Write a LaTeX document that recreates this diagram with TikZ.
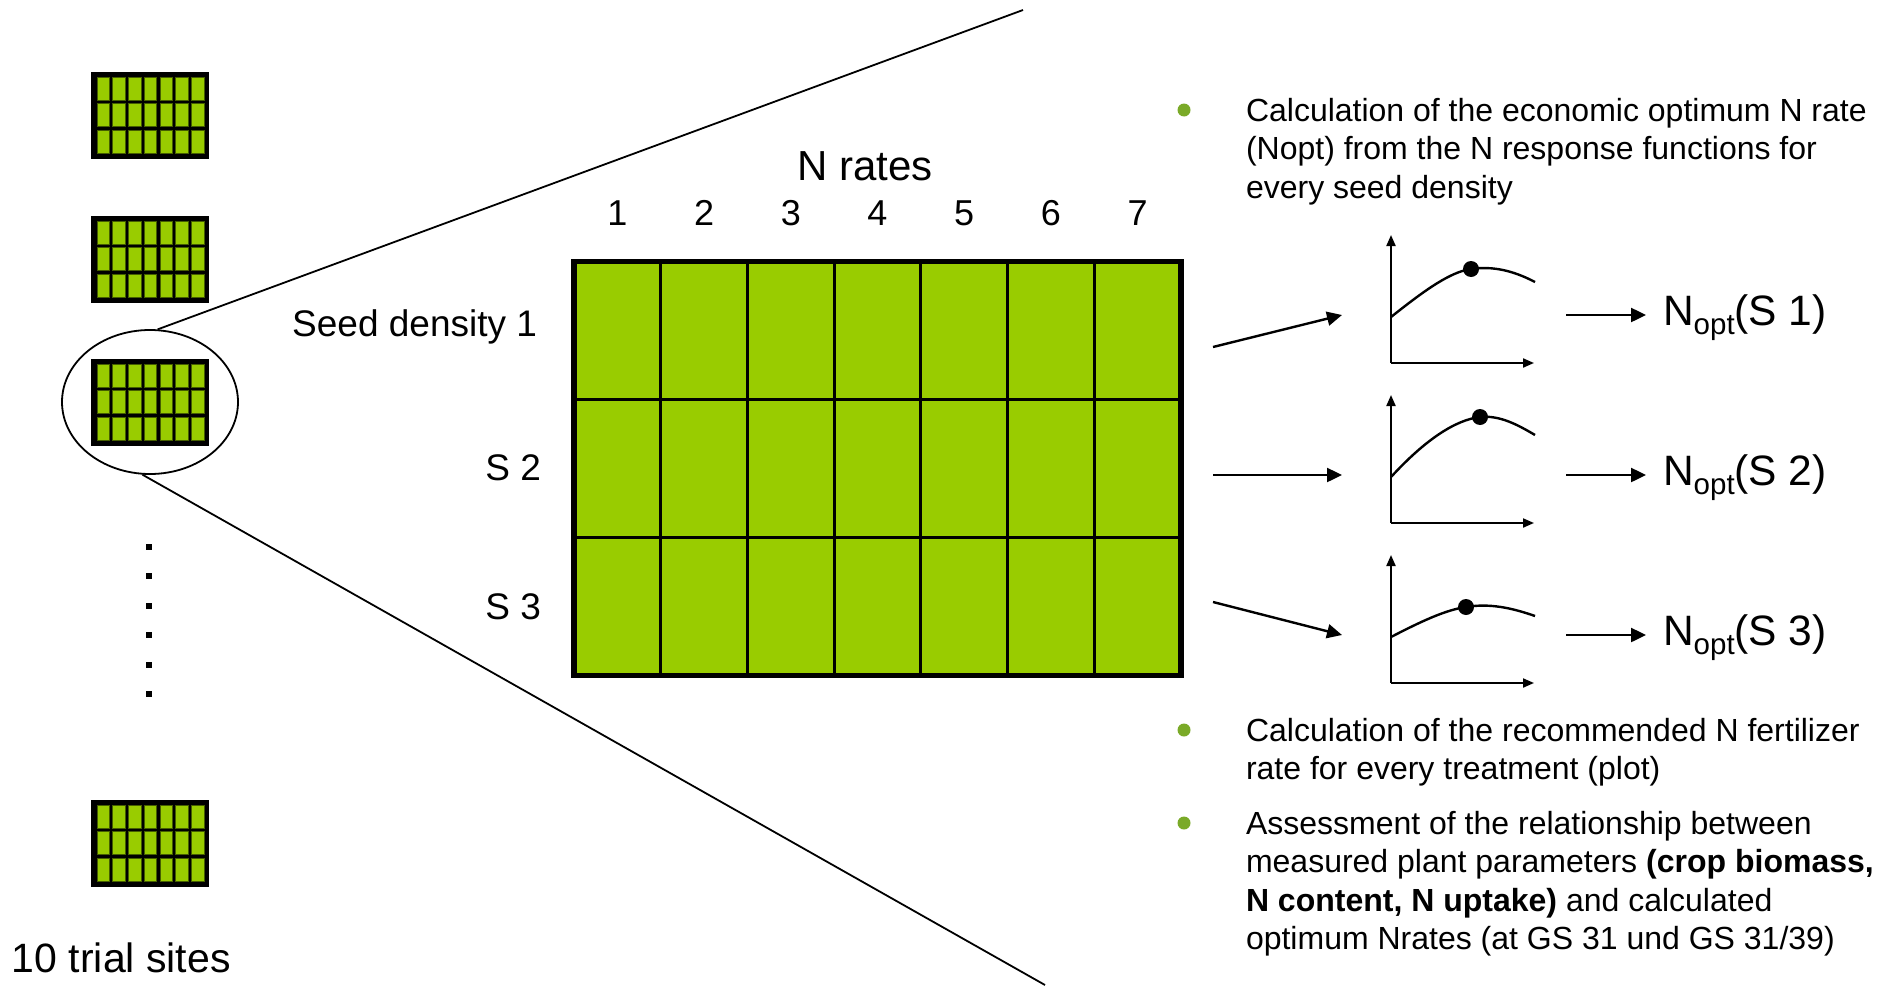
\documentclass[tikz,border=0pt]{standalone}
\usepackage{fontspec}
\setmainfont{Liberation Sans}
\usetikzlibrary{arrows.meta,shapes.geometric,calc}
\definecolor{grass}{RGB}{153,204,0}
\definecolor{celledge}{RGB}{70,95,0}
\definecolor{bulletgreen}{RGB}{122,170,40}
\begin{document}
\begin{tikzpicture}[x=1pt,y=-1pt,
  fieldicon/.pic={
    \fill[black] (0,0) rectangle (118,87);
    \foreach \i in {0,...,6}{
      \foreach \j in {0,1,2}{
        \filldraw[fill=grass,draw=celledge,line width=0.8pt] ({6+\i*15.76},{5+\j*26.45}) rectangle ++(12.4,23.1);
      }
    }
  },
  lbl/.style={inner sep=0pt,outer sep=0pt,text=black},
  thinline/.style={line width=1.8pt},
  bigarrow/.style={line width=2.4pt,-{Triangle[length=15pt,width=14pt]}},
  axisarrow/.style={line width=2pt,-{Triangle[length=11pt,width=9pt]}},
  curveline/.style={line width=2.4pt},
  optdot/.style={circle,fill=black,inner sep=0pt,minimum size=16pt},
  bulletdot/.style={circle,fill=bulletgreen,inner sep=0pt,minimum size=13pt},
  bodytext/.style={lbl,anchor=north west,align=left,font=\fontsize{32}{38.5}\selectfont},
]
\useasboundingbox (0,0) rectangle (1892,985);

% left column of trial-site icons
\pic at (91,72) {fieldicon};
\pic at (91,216) {fieldicon};
\pic at (91,359) {fieldicon};
\pic at (91,800) {fieldicon};
\foreach \k in {0,...,5}{
  \fill[black] (146,{544+29.4*\k}) rectangle ++(6,6);
}
\node[lbl,anchor=base west,font=\fontsize{41}{49}\selectfont] (sites) at (12,972) {10 trial sites};

% magnifier ellipse and rays
\node[ellipse,draw,line width=1.8pt,minimum width=176pt,minimum height=144pt,inner sep=0pt] (ell) at (150,402) {};
\coordinate (topend) at (1023,10);
\coordinate (botend) at (1045,985);
\draw[thinline] (ell.84) -- (topend);
\draw[thinline] (ell.-96) -- (botend);

% main grid
\node[draw=black,line width=5.5pt,fill=grass,minimum width=607pt,minimum height=414pt,inner sep=0pt,outer sep=0pt,anchor=north west] (grid) at (574,261.5) {};
\foreach \i in {1,...,6}{
  \draw[line width=2.8pt] ($(grid.north west)!\i/7!(grid.north east)$) -- ($(grid.south west)!\i/7!(grid.south east)$);
}
\foreach \i in {1,2}{
  \draw[line width=2.8pt] ($(grid.north west)!\i/3!(grid.south west)$) -- ($(grid.north east)!\i/3!(grid.south east)$);
}
\node[lbl,anchor=base,font=\fontsize{42}{50}\selectfont] (nrates) at (865,180) {N rates};
\foreach \i in {1,...,7}{
  \node[lbl,anchor=base,font=\fontsize{36}{43}\selectfont] (c\i) at ({574+86.714*\i-43.357},225) {\i};
}
\node[lbl,anchor=base east,font=\fontsize{37}{44}\selectfont] (r1) at (537,336) {Seed density 1};
\node[lbl,anchor=base east,font=\fontsize{37}{44}\selectfont] (r2) at (541,480) {S 2};
\node[lbl,anchor=base east,font=\fontsize{37}{44}\selectfont] (r3) at (541,619) {S 3};

% arrows from grid rows to graphs
\coordinate (p1s) at (1213,347); \coordinate (p1e) at (1342,315);
\coordinate (p2s) at (1213,475); \coordinate (p2e) at (1342,475);
\coordinate (p3s) at (1213,602); \coordinate (p3e) at (1342,635);
\draw[bigarrow] (p1s) -- (p1e);
\draw[bigarrow] (p2s) -- (p2e);
\draw[bigarrow] (p3s) -- (p3e);

% graph 1
\coordinate (g1o) at (1391,363); \coordinate (g1y) at (1391,235); \coordinate (g1x) at (1534,363);
\draw[axisarrow] (g1o) -- (g1y);
\draw[axisarrow] (g1o) -- (g1x);
\coordinate (g1s) at (1391,317); \coordinate (g1e) at (1535,282);
\node[optdot] (g1d) at (1471,269) {};
\draw[curveline] (g1s) .. controls (1425,290) and (1450,272) .. (g1d.center) .. controls (1492,266) and (1512,270) .. (g1e);

% graph 2
\coordinate (g2o) at (1391,523); \coordinate (g2y) at (1391,395); \coordinate (g2x) at (1534,523);
\draw[axisarrow] (g2o) -- (g2y);
\draw[axisarrow] (g2o) -- (g2x);
\coordinate (g2s) at (1391,477); \coordinate (g2e) at (1535,435);
\node[optdot] (g2d) at (1480,417) {};
\draw[curveline] (g2s) .. controls (1425,440) and (1455,420) .. (g2d.center) .. controls (1500,415) and (1518,425) .. (g2e);

% graph 3
\coordinate (g3o) at (1391,683); \coordinate (g3y) at (1391,555); \coordinate (g3x) at (1534,683);
\draw[axisarrow] (g3o) -- (g3y);
\draw[axisarrow] (g3o) -- (g3x);
\coordinate (g3s) at (1391,637); \coordinate (g3e) at (1535,616);
\node[optdot] (g3d) at (1466,607) {};
\draw[curveline] (g3s) .. controls (1420,622) and (1445,610) .. (g3d.center) .. controls (1490,603) and (1512,608) .. (g3e);

% arrows to Nopt labels
\coordinate (q1s) at (1566,315); \coordinate (q1e) at (1646,315);
\coordinate (q2s) at (1566,475); \coordinate (q2e) at (1646,475);
\coordinate (q3s) at (1566,635); \coordinate (q3e) at (1646,635);
\draw[bigarrow] (q1s) -- (q1e);
\draw[bigarrow] (q2s) -- (q2e);
\draw[bigarrow] (q3s) -- (q3e);
\node[lbl,anchor=base west,font=\fontsize{42.5}{50}\selectfont] (n1) at (1663,325) {N\raisebox{-9pt}{\fontsize{29.5}{30}\selectfont opt}(S 1)};
\node[lbl,anchor=base west,font=\fontsize{42.5}{50}\selectfont] (n2) at (1663,485) {N\raisebox{-9pt}{\fontsize{29.5}{30}\selectfont opt}(S 2)};
\node[lbl,anchor=base west,font=\fontsize{42.5}{50}\selectfont] (n3) at (1663,645) {N\raisebox{-9pt}{\fontsize{29.5}{30}\selectfont opt}(S 3)};

% bullet texts
\node[bulletdot] (b1) at (1184,110) {};
\node[bodytext] (t1) at (1246,98) {Calculation of the economic optimum N rate\\(Nopt) from the N response functions for\\every seed density};
\node[bulletdot] (b2) at (1184,730) {};
\node[bodytext] (t2) at (1246,718) {Calculation of the recommended N fertilizer\\rate for every treatment (plot)};
\node[bulletdot] (b3) at (1184,823) {};
\node[bodytext] (t3) at (1246,811) {Assessment of the relationship between\\measured plant parameters \textbf{(crop biomass,}\\\textbf{N content, N uptake)} and calculated\\optimum Nrates (at GS 31 und GS 31/39)};
\end{tikzpicture}
\end{document}
